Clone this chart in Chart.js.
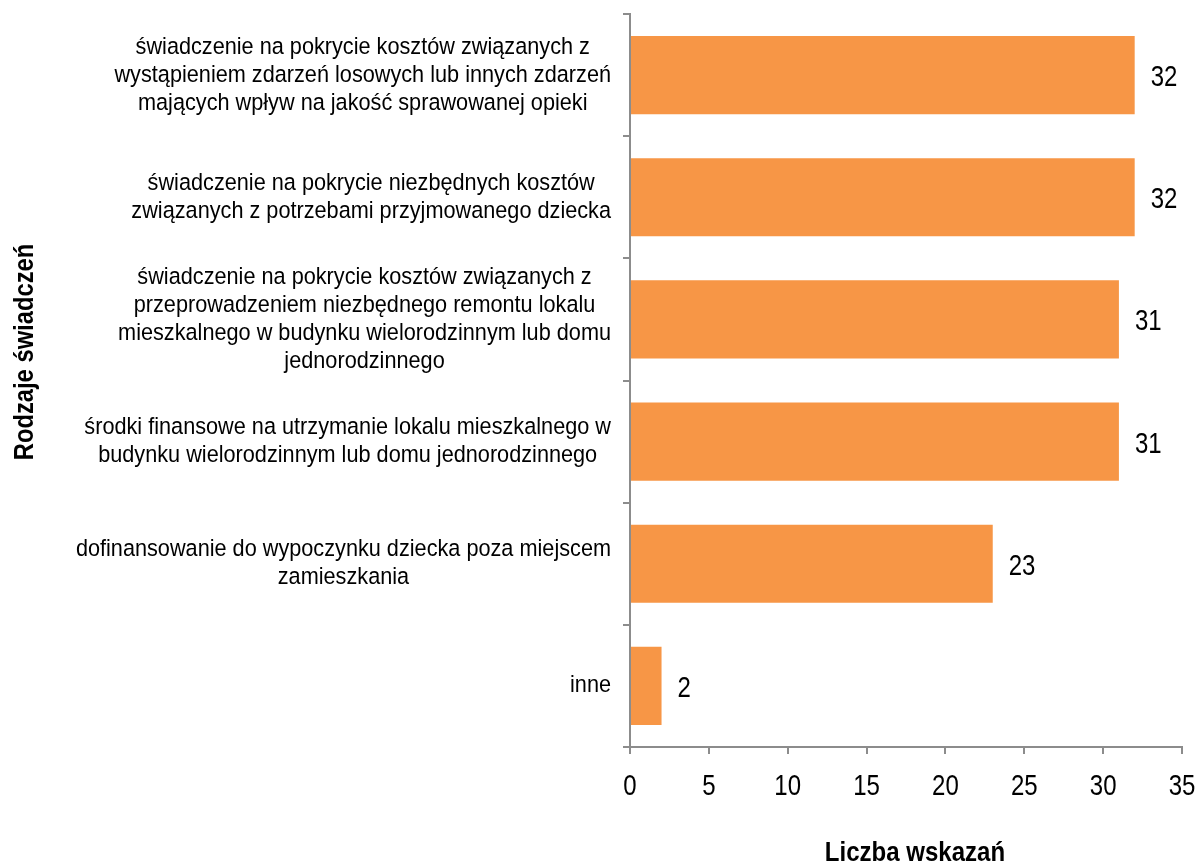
<!DOCTYPE html>
<html>
<head>
<meta charset="utf-8">
<script src="https://cdn.jsdelivr.net/npm/chart.js@4"></script>
<style>
  html, body { margin: 0; padding: 0; background: #fff; }
  #wrap { width: 1200px; height: 866px; }
</style>
</head>
<body>
<div id="wrap"><canvas id="chart"></canvas></div>
<script>
// dane wykresu
const categories = [
    ['świadczenie na pokrycie kosztów związanych z', 'wystąpieniem zdarzeń losowych lub innych zdarzeń', 'mających wpływ na jakość sprawowanej opieki'],
    ['świadczenie na pokrycie niezbędnych kosztów', 'związanych z potrzebami przyjmowanego dziecka'],
    ['świadczenie na pokrycie kosztów związanych z', 'przeprowadzeniem niezbędnego remontu lokalu', 'mieszkalnego w budynku wielorodzinnym lub domu', 'jednorodzinnego'],
    ['środki finansowe na utrzymanie lokalu mieszkalnego w', 'budynku wielorodzinnym lub domu jednorodzinnego'],
    ['dofinansowanie do wypoczynku dziecka poza miejscem', 'zamieszkania'],
    ['inne']
];
const values = [32, 32, 31, 31, 23, 2];
const xTicks = [0, 5, 10, 15, 20, 25, 30, 35];
const xTitle = 'Liczba wskazań';
const yTitle = 'Rodzaje świadczeń';

const FONT = "'Liberation Sans', Arial, sans-serif";
const AXIS_COLOR = '#8c8c8c';

// brak fontu "narrow" - tekst ściskany w poziomie
function narrowText(ctx, text, x, y, sx) {
    ctx.save();
    ctx.translate(x, y);
    ctx.scale(sx, 1);
    ctx.fillText(text, 0, 0);
    ctx.restore();
}

// wszystkie teksty wykresu
const chartTexts = {
    id: 'chartTexts',
    afterDraw(chart) {
        const ctx = chart.ctx;
        const xs = chart.scales.x;
        const ys = chart.scales.y;
        const area = chart.chartArea;
        ctx.save();
        ctx.fillStyle = '#000';
        ctx.textBaseline = 'alphabetic';

        // etykiety kategorii: linie wyśrodkowane, blok wyrównany do prawej
        const catSx = 0.885;
        const lineH = 28;
        ctx.font = '24.5px ' + FONT;
        ctx.textAlign = 'center';
        categories.forEach((lines, i) => {
            const yc = ys.getPixelForTick(i);
            const widest = Math.max(...lines.map(l => ctx.measureText(l).width)) * catSx;
            const xc = area.left - 19 - widest / 2;
            lines.forEach((l, k) => {
                const y = yc + (k - (lines.length - 1) / 2) * lineH + 6.5;
                narrowText(ctx, l, xc, y, catSx);
            });
        });

        // etykiety osi X
        ctx.font = '30px ' + FONT;
        ctx.textAlign = 'center';
        xTicks.forEach(v => narrowText(ctx, String(v), xs.getPixelForValue(v), 795, 0.8));

        // wartości przy słupkach
        ctx.textAlign = 'left';
        chart.getDatasetMeta(0).data.forEach((bar, i) => {
            narrowText(ctx, String(values[i]), bar.x + 16, bar.y + 11, 0.8);
        });

        // tytuły osi
        ctx.font = 'bold 27px ' + FONT;
        ctx.textAlign = 'center';
        narrowText(ctx, xTitle, (area.left + area.right) / 2 + 9, 861, 0.89);

        ctx.save();
        ctx.translate(33, 352);
        ctx.rotate(-Math.PI / 2);
        narrowText(ctx, yTitle, 0, 0, 0.88);
        ctx.restore();

        ctx.restore();
    }
};

new Chart(document.getElementById('chart'), {
    type: 'bar',
    data: {
        labels: categories.map(c => c.join(' ')),
        datasets: [{
            data: values,
            backgroundColor: '#F79646',
            borderWidth: 0,
            barPercentage: 0.64,
            categoryPercentage: 1
        }]
    },
    options: {
        indexAxis: 'y',
        responsive: true,
        maintainAspectRatio: false,
        animation: false,
        layout: { padding: { left: 0, right: 18, top: 14, bottom: 0 } },
        plugins: {
            legend: { display: false },
            tooltip: { enabled: false }
        },
        scales: {
            x: {
                min: 0,
                max: 35,
                afterBuildTicks: (scale) => { scale.ticks = xTicks.map(v => ({ value: v })); },
                afterFit: (scale) => { scale.height = 119; },
                grid: { drawOnChartArea: false, drawTicks: true, tickLength: 7, color: AXIS_COLOR, lineWidth: 2 },
                border: { color: AXIS_COLOR, width: 2 },
                ticks: { display: false }
            },
            y: {
                afterFit: (scale) => { scale.width = 630; },
                grid: { drawOnChartArea: false, drawTicks: true, tickLength: 7, color: AXIS_COLOR, lineWidth: 2 },
                border: { color: AXIS_COLOR, width: 2 },
                ticks: { display: false }
            }
        }
    },
    plugins: [chartTexts]
});
</script>
</body>
</html>
